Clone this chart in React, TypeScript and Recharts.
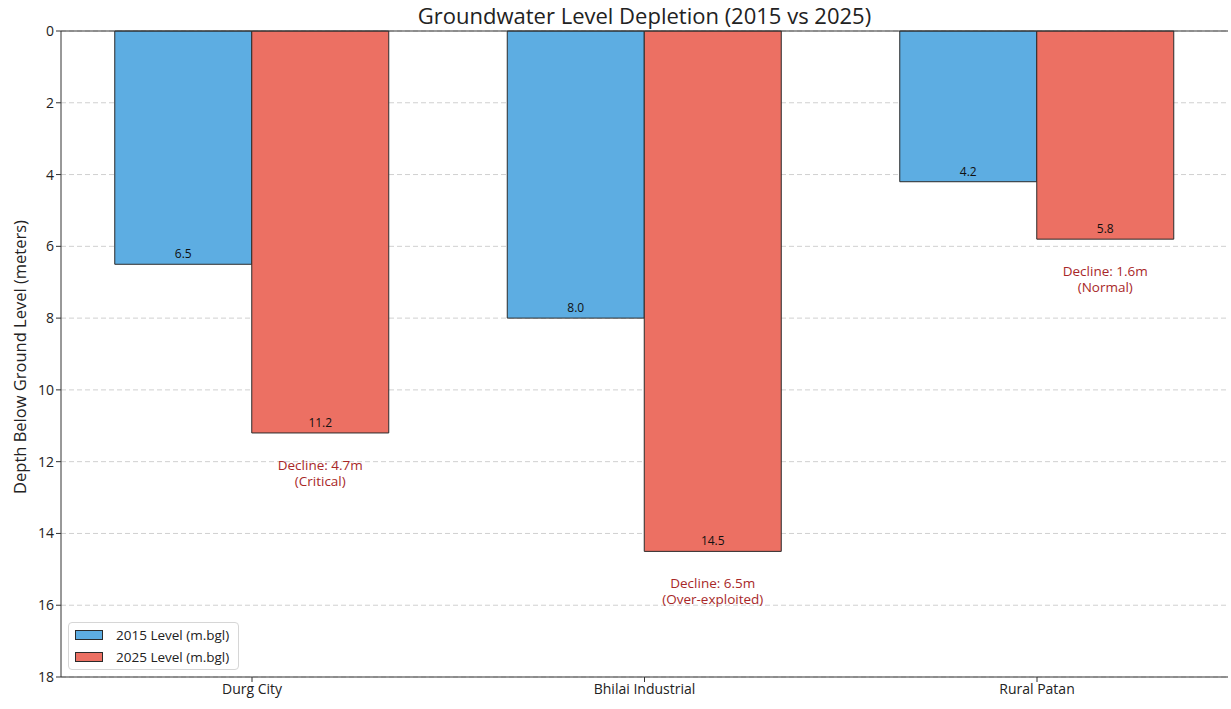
import { BarChart, Bar, XAxis, YAxis, CartesianGrid, LabelList, Label, ReferenceLine } from 'recharts'

const regions = ['Durg City', 'Bhilai Industrial', 'Rural Patan']
const level2015 = [6.5, 8.0, 4.2]
const level2025 = [11.2, 14.5, 5.8]
const status = ['Critical', 'Over-exploited', 'Normal']
const depthTicks = [0, 2, 4, 6, 8, 10, 12, 14, 16, 18]

const BLUE = '#5DADE2'
const RED = '#EC7063'
const EDGE = '#2b2b2b'
const NOTE = '#a82828'
const FONT = '"Open Sans", Roboto, sans-serif'

const data = regions.map((name, i) => ({
  name,
  y2015: level2015[i],
  y2025: level2025[i],
  decline: +(level2025[i] - level2015[i]).toFixed(1),
  status: status[i],
}))

// the axis is reversed, so the bar's lower edge is the larger of y / y+height
const barBottom = (y: number, height: number) => Math.max(y, y + height)

// value printed just inside the bottom edge of each bar
const ValueLabel = (props: any) => {
  const { x, y, width, height, value } = props
  return (
    <text x={x + width / 2} y={barBottom(y, height) - 6} textAnchor="middle" fontSize={12} fill="#111" fontFamily={FONT}>
      {Number(value).toFixed(1)}
    </text>
  )
}

// decline note under the 2025 bar, two separate lines
const DeclineLabel = (props: any) => {
  const { x, y, width, height, index } = props
  const d = data[index]
  const cx = x + width / 2
  const bottom = barBottom(y, height)
  return (
    <g fontSize={13.5} fill={NOTE} fontFamily={FONT} textAnchor="middle">
      <text x={cx} y={bottom + 37}>{`Decline: ${d.decline}m`}</text>
      <text x={cx} y={bottom + 53}>{`(${d.status})`}</text>
    </g>
  )
}

const YTitle = (props: any) => {
  const { viewBox } = props
  const cx = 19
  const cy = viewBox.y + viewBox.height / 2 + 3
  return (
    <text x={cx} y={cy} transform={`rotate(-90 ${cx} ${cy})`} textAnchor="middle" dominantBaseline="central" fontSize={16.5} fill="#222" fontFamily={FONT}>
      Depth Below Ground Level (meters)
    </text>
  )
}

const legendItems = [
  { label: '2015 Level (m.bgl)', color: BLUE },
  { label: '2025 Level (m.bgl)', color: RED },
]

export default function App() {
  return (
    <div style={{ position: 'absolute', left: 0, top: 0, width: 1231, height: 709, background: '#fff' }}>
      <div
        style={{
          position: 'absolute',
          top: 0,
          left: 61,
          width: 1167,
          textAlign: 'center',
          fontFamily: FONT,
          fontSize: 22,
          lineHeight: '30px',
          color: '#222',
        }}
      >
        Groundwater Level Depletion (2015 vs 2025)
      </div>
      <BarChart
        width={1231}
        height={709}
        data={data}
        margin={{ top: 31, right: 3, bottom: 0, left: 16 }}
        barGap={0}
        barSize={137}
      >
        <CartesianGrid vertical={false} stroke="#d0d0d0" strokeDasharray="5 3" />
        <XAxis
          dataKey="name"
          height={32}
          padding={{ left: -5.25, right: -5.25 }}
          tickSize={5}
          stroke="#333"
          tick={{ fontSize: 14, fill: '#222', fontFamily: FONT }}
        />
        <YAxis
          reversed
          domain={[0, 18]}
          ticks={depthTicks}
          width={45}
          tickSize={5}
          stroke="#333"
          tick={{ fontSize: 14, fill: '#222', fontFamily: FONT }}
        >
          <Label content={<YTitle />} />
        </YAxis>
        <YAxis yAxisId="right" orientation="right" domain={[0, 18]} width={0} tick={false} tickLine={false} stroke="#333" />
        <ReferenceLine y={0} stroke="#333" />
        <Bar dataKey="y2015" fill={BLUE} stroke={EDGE} strokeWidth={1} isAnimationActive={false}>
          <LabelList dataKey="y2015" content={<ValueLabel />} />
        </Bar>
        <Bar dataKey="y2025" fill={RED} stroke={EDGE} strokeWidth={1} isAnimationActive={false}>
          <LabelList dataKey="y2025" content={<ValueLabel />} />
          <LabelList dataKey="decline" content={<DeclineLabel />} />
        </Bar>
      </BarChart>
      <div
        style={{
          position: 'absolute',
          left: 68,
          top: 622,
          border: '1px solid #d6d6d6',
          borderRadius: 4,
          background: 'rgba(255,255,255,0.85)',
          padding: '1px 9px 1px 6px',
          fontFamily: FONT,
          fontSize: 13.5,
          color: '#222',
        }}
      >
        {legendItems.map(item => (
          <div key={item.label} style={{ display: 'flex', alignItems: 'center', height: 22 }}>
            <div style={{ width: 28, height: 10, background: item.color, border: `1px solid ${EDGE}`, marginRight: 13, boxSizing: 'border-box' }} />
            <span>{item.label}</span>
          </div>
        ))}
      </div>
    </div>
  )
}
